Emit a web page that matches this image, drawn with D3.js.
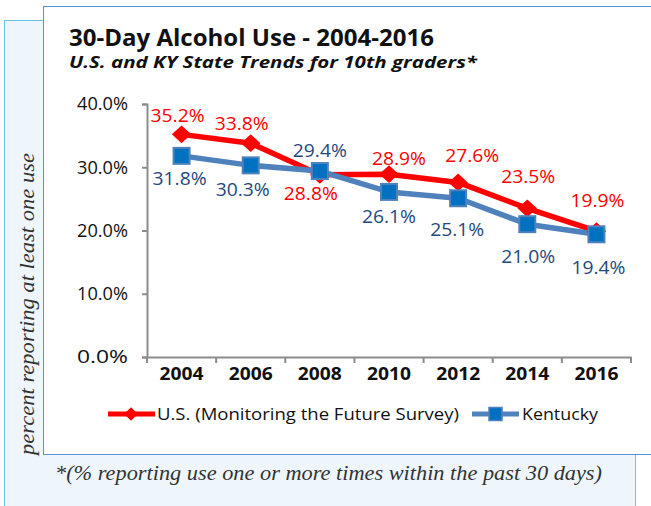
<!DOCTYPE html>
<html lang="en">
<head>
    <meta charset="UTF-8">
    <title>30-Day Alcohol Use</title>
    <style>
        body { margin: 0; background: #fff; }
        svg { display: block; }
    </style>
    <script src="https://d3js.org/d3.v7.min.js"></script>
</head>
<body>
    <svg width="651" height="506"></svg>
    <script>
        const years = ['2004', '2006', '2008', '2010', '2012', '2014', '2016'];
        const usValues = [35.2, 33.8, 28.8, 28.9, 27.6, 23.5, 19.9];
        const kyValues = [31.8, 30.3, 29.4, 26.1, 25.1, 21.0, 19.4];
        const yTicks = [0, 10, 20, 30, 40];

        const svg = d3.select("svg");
        const sans = "'Open Sans', 'Noto Sans', sans-serif";
        const serif = "'Liberation Serif', 'DejaVu Serif', serif";

        // light blue panel behind
        svg.append("rect")
            .attr("x", 4.5).attr("y", 20.5)
            .attr("width", 631).attr("height", 500)
            .attr("fill", "#eef6fc")
            .attr("stroke", "#6cc0ec").attr("stroke-width", 1);

        // white chart box
        svg.append("rect")
            .attr("x", 43.5).attr("y", 6.5)
            .attr("width", 620).attr("height", 448)
            .attr("fill", "#fff")
            .attr("stroke", "#5b8fd6").attr("stroke-width", 1);

        svg.append("text")
            .attr("x", 69).attr("y", 46)
            .attr("font-family", sans).attr("font-weight", "bold")
            .attr("font-size", 23).attr("fill", "#111")
            .attr("textLength", 365).attr("lengthAdjust", "spacingAndGlyphs")
            .text("30-Day Alcohol Use - 2004-2016");

        svg.append("text")
            .attr("x", 69).attr("y", 68)
            .attr("font-family", sans).attr("font-weight", "bold").attr("font-style", "italic")
            .attr("font-size", 16).attr("fill", "#111")
            .attr("textLength", 408).attr("lengthAdjust", "spacingAndGlyphs")
            .text("U.S. and KY State Trends for 10th graders*");

        const x = d3.scaleBand().domain(years).range([147, 631]);
        const y = d3.scaleLinear().domain([0, 40]).range([357, 104]);

        // y axis
        const yAxis = svg.append("g")
            .attr("transform", "translate(147,0)")
            .call(d3.axisLeft(y).tickValues(yTicks).tickSize(5).tickPadding(14)
                .tickFormat(d => d.toFixed(1) + "%"));
        yAxis.select(".domain").attr("stroke", "#8c8c8c").attr("stroke-width", 2);
        yAxis.selectAll(".tick line").attr("stroke", "#8c8c8c").attr("stroke-width", 2);
        yAxis.selectAll(".tick text")
            .attr("font-family", sans).attr("font-size", 18).attr("fill", "#111")
            .attr("textLength", 51).attr("lengthAdjust", "spacingAndGlyphs");

        // x axis
        const xAxis = svg.append("g")
            .attr("transform", "translate(0,357)")
            .call(d3.axisBottom(x).tickSize(0).tickPadding(10));
        xAxis.select(".domain").attr("stroke", "#8c8c8c").attr("stroke-width", 2);
        xAxis.selectAll(".tick text")
            .attr("font-family", sans).attr("font-weight", "bold")
            .attr("font-size", 18).attr("fill", "#111")
            .attr("textLength", 44).attr("lengthAdjust", "spacingAndGlyphs");
        const edges = years.map(d => x(d)).concat([x.range()[1]]);
        xAxis.append("g").selectAll("line")
            .data(edges)
            .enter().append("line")
            .attr("x1", d => d).attr("x2", d => d)
            .attr("y1", 0).attr("y2", 6)
            .attr("stroke", "#8c8c8c").attr("stroke-width", 2);

        const cx = d => x(d) + x.bandwidth() / 2;
        const line = d3.line().x((d, i) => cx(years[i])).y(d => y(d));

        const usColor = "#ff0000", kyLine = "#4f81bd", kyFill = "#0070c0", kyText = "#1f497d";

        svg.append("path").datum(usValues)
            .attr("d", line).attr("fill", "none")
            .attr("stroke", usColor).attr("stroke-width", 5.5).attr("stroke-linejoin", "round");
        svg.append("path").datum(kyValues)
            .attr("d", line).attr("fill", "none")
            .attr("stroke", kyLine).attr("stroke-width", 5.5).attr("stroke-linejoin", "round");

        const diamond = d3.symbol().type(d3.symbolDiamond2).size(200);

        svg.append("g").selectAll("path")
            .data(usValues).enter().append("path")
            .attr("d", diamond)
            .attr("transform", (d, i) => `translate(${cx(years[i])},${y(d)}) scale(1.1,1)`)
            .attr("fill", usColor);

        svg.append("g").selectAll("rect")
            .data(kyValues).enter().append("rect")
            .attr("x", (d, i) => cx(years[i]) - 8)
            .attr("y", d => y(d) - 8)
            .attr("width", 16).attr("height", 16)
            .attr("fill", kyFill).attr("stroke", kyLine).attr("stroke-width", 2);

        // data label placement per point: [dx, dy] from the marker
        const usPlace = [[-4, -12], [-9, -13], [-9, 25], [10, -9], [14, -20], [1, -25], [1, -24]];
        const kyPlace = [[-2, 29], [-8, 31], [0, -14], [0, 31], [-1, 38], [1, 39], [2, 40]];

        svg.append("g").selectAll("text")
            .data(usValues).enter().append("text")
            .attr("x", (d, i) => cx(years[i]) + usPlace[i][0] - 27)
            .attr("y", (d, i) => y(d) + usPlace[i][1])
            .attr("font-family", sans).attr("font-size", 19).attr("fill", usColor)
            .attr("textLength", 54).attr("lengthAdjust", "spacingAndGlyphs")
            .text(d => d.toFixed(1) + "%");

        svg.append("g").selectAll("text")
            .data(kyValues).enter().append("text")
            .attr("x", (d, i) => cx(years[i]) + kyPlace[i][0] - 27)
            .attr("y", (d, i) => y(d) + kyPlace[i][1])
            .attr("font-family", sans).attr("font-size", 19).attr("fill", kyText)
            .attr("textLength", 54).attr("lengthAdjust", "spacingAndGlyphs")
            .text(d => d.toFixed(1) + "%");

        // legend
        const leg = svg.append("g").attr("transform", "translate(0,414)");
        leg.append("line").attr("x1", 108).attr("x2", 155).attr("y1", 0).attr("y2", 0)
            .attr("stroke", usColor).attr("stroke-width", 5);
        leg.append("path").attr("d", d3.symbol().type(d3.symbolDiamond2).size(120))
            .attr("transform", "translate(131,0)").attr("fill", usColor);
        leg.append("text").attr("x", 157).attr("y", 6)
            .attr("font-family", sans).attr("font-size", 17).attr("fill", "#111")
            .attr("textLength", 302).attr("lengthAdjust", "spacingAndGlyphs")
            .text("U.S. (Monitoring the Future Survey)");
        leg.append("line").attr("x1", 472).attr("x2", 519).attr("y1", 0).attr("y2", 0)
            .attr("stroke", kyLine).attr("stroke-width", 5);
        leg.append("rect").attr("x", 489).attr("y", -6.5).attr("width", 13).attr("height", 13)
            .attr("fill", kyFill).attr("stroke", kyLine).attr("stroke-width", 1.5);
        leg.append("text").attr("x", 522).attr("y", 6)
            .attr("font-family", sans).attr("font-size", 17).attr("fill", "#111")
            .attr("textLength", 76).attr("lengthAdjust", "spacingAndGlyphs")
            .text("Kentucky");

        // rotated y label
        svg.append("text")
            .attr("transform", "translate(34,304) rotate(-90)")
            .attr("text-anchor", "middle")
            .attr("font-family", serif).attr("font-style", "italic")
            .attr("font-size", 21).attr("fill", "#333")
            .attr("textLength", 302).attr("lengthAdjust", "spacingAndGlyphs")
            .text("percent reporting at least one use");

        // footnote
        svg.append("text")
            .attr("x", 55).attr("y", 480)
            .attr("font-family", serif).attr("font-style", "italic")
            .attr("font-size", 21).attr("fill", "#333")
            .attr("textLength", 547).attr("lengthAdjust", "spacingAndGlyphs")
            .text("*(% reporting use one or more times within the past 30 days)");
    </script>
</body>
</html>
